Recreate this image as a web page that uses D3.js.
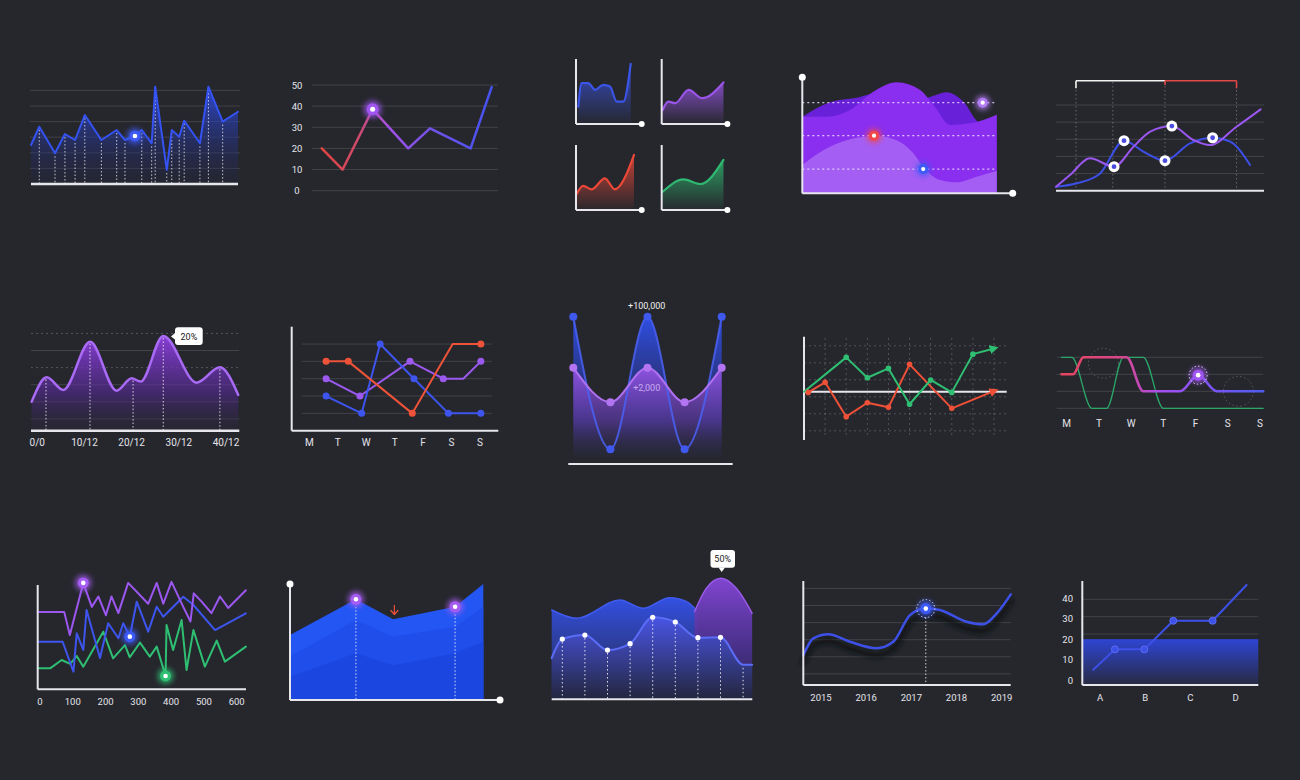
<!DOCTYPE html>
<html><head><meta charset="utf-8">
<script src="https://cdn.jsdelivr.net/npm/d3@7"></script>
<style>html,body{margin:0;padding:0;background:#26272d;overflow:hidden}svg{display:block}text{font-family:Roboto,"Noto Sans",sans-serif}</style>
</head><body><script>
// ---------------- DATA ----------------
// 1: spiky blue area
const spikeX = [0,4,11.6,16.4,21.3,26,34,41.4,45.4,50.2,53.5,58.3,60,65.6,68,71.6,74,81.6,85.7,92.6,100];
const spikeY = [2.5,3.67,1.97,3.2,2.82,4.42,2.82,3.46,2.82,3.08,3.46,2.61,6.24,0.9,3.46,3.03,4.06,2.61,6.24,4.0,4.63];
// 2: gradient line with 0-50 ticks
const lineTicks = [0,10,20,30,40,50];
const lineX = [5.4,16.6,32.7,51.8,63.5,85.3,96.6];
const lineY = [20,10,38.5,20,29.5,20,49];
// 3: four mini area charts
const miniBlueX = [0.35,0.87,1.87,2.9,4.16,5.17,6.2,7.2,8.33];
const miniBlueY = [2.67,6.3,6.3,5.26,6.03,5.77,3.45,3.45,9.27];
const miniPurpleX = [0.15,1.0,2.05,4.1,6.15,9.4];
const miniPurpleY = [2.16,3.45,3.2,5.26,3.97,6.38];
const miniRedX = [0.1,1.1,2.4,4.4,5.9,8.83];
const miniRedY = [2.46,3.7,3.18,4.88,3.18,8.46];
const miniGreenX = [0.15,3.3,5.9,9.4];
const miniGreenY = [2.8,4.7,4.0,7.7];
// 4: layered violet waves
const waveDarkX = [0,1.42,2.8,3.83,5.03,6.23,7.43,8.29,9.14,10];
const waveDarkY = [6.6,7.84,8.24,8.62,8.62,8.19,8.71,7.9,6.12,6.78];
const waveMidX = [0,1.25,2.45,3.65,4.86,6.06,6.75,7.6,8.63,10];
const waveMidY = [6.6,6.6,7.18,8.76,9.57,8.9,7.61,5.89,6.03,6.78];
const waveLightX = [0,1.08,2.45,3.83,4.86,5.71,6.22,7.08,7.94,8.97,10];
const waveLightY = [2.44,3.71,4.66,4.94,4.57,3.45,2.29,1.15,0.95,1.43,1.92];
const wavePinX = [9.28,3.69,6.22];
const wavePinY = [7.81,4.97,2.09];
// 5: two smooth trend lines
const trendPurpleX = [0,0.67,1.63,2.79,3.73,4.53,5.57,6.6,7.4,8.68,9.84];
const trendPurpleY = [0.23,0.91,1.89,1.4,2.57,3.44,3.77,2.96,2.66,3.73,4.75];
const trendBlueX = [0,1.0,2.12,3.27,4.2,5.24,6.44,7.53,8.37,9.33];
const trendBlueY = [0.23,0.43,1.01,2.92,2.28,1.75,2.76,3.09,2.86,1.5];
const trendMarkX = [3.27,2.79,5.57,5.24,7.53];
const trendMarkY = [2.92,1.4,3.77,1.75,3.09];
const trendGuides = [0.96,2.73,5.24,8.68];
// 6: purple hills
const hillX = [-1.2,2,5.5,11.2,16.8,20,21.9,26.7,33.8,38.7,42.6];
const hillY = [2.0,3.43,2.69,5.51,2.65,3.37,3.18,5.85,3.12,4.02,2.4];
const hillTicks = [0,10,20,30,40];
const hillLabels = ["0/0","10/12","20/12","30/12","40/12"];
const hillGuides = [1.84,11.17,20.3,26.7,38.7];
const hillNote = "20%";
// 7: weekly lines
const weekDays = ["M","T","W","T","F","S","S"];
const weekRedX = [0.59,1.37,3.62,5.04,6.03];
const weekRedY = [4,4,1,5,5];
const weekPurpleX = [0.59,1.78,3.54,4.71,5.41,6.03];
const weekPurpleY = [3,2,4,3,3,4];
const weekBlueX = [0.59,1.84,2.49,3.68,4.89,6.03];
const weekBlueY = [2,1,5,3,1,1];
// 8: oscillating waves
const oscX = [0,1,2,3,4];
const oscBlueY = [100,10,100,10,100];
const oscPurpleY = [65.4,42,65.4,42,65.4];
const oscLabels = ["+100,000","+2,000"];
// 9: green / red around zero
const gainGreenX = [0,2,3,4,5,6,7,8,9.05];
const gainGreenY = [0,2.02,0.82,1.37,-0.74,0.69,-0.04,2.21,2.56];
const gainRedX = [0.2,1,2,3,4,5,7,9.05];
const gainRedY = [-0.04,0.55,-1.47,-0.65,-0.92,1.61,-0.98,0.06];
const gainGridY = [2.7,1.7,0.7,-0.3,-1.3,-2.3];
// 10: step waves
const stepGreenX = [-0.16,0.16,0.78,1.24,1.76,2.38,3.0,6.1];
const stepGreenY = [3,3,0,0,3,3,0,0];
const stepPinkX = [-0.16,0.2,0.52,1.86,2.38,3.52,4.08,4.66,6.1];
const stepPinkY = [2,2,3,3,1,1,1.95,1,1];
const stepRingX = [1.14,5.33];
const stepRingY = [2.65,1.0];
// 11: three zigzag lines
const multiTicks = [0,100,200,300,400,500,600];
const multiPurpleX = [-7,74,91,132,158,178,201,218,239,269,330,356,376,401,437,459,469,493,523,549,574,628];
const multiPurpleY = [74,74,52,102,79,89,71,89,73,102,82,102,82,103,79,65,92,84,73,89,78,95];
const multiBlueX = [-7,69,102,112,132,142,183,208,239,254,274,295,330,356,376,437,468,534,628];
const multiBlueY = [45.6,45.6,16.9,53.7,37.7,76,30,63.3,48.9,63.3,50.5,84,55.2,79.2,69.6,88.8,80.8,56.8,72.9];
const multiGreenX = [-7,31,66,92,112,132,193,223,259,274,305,335,356,383,386,406,432,447,468,503,539,564,628];
const multiGreenY = [20.1,20.1,28.1,24.3,31.9,21.7,55.2,29.7,42.4,30.7,44.7,31.3,40.9,12.8,61.7,37.7,66.4,18.5,56.8,21.7,46.7,26.5,40.9];
// 12: blue mountain
const mountX = [0,3.41,5.34,8.54,10];
const mountTop = [5.6,8.68,6.96,8.04,10];
const mountMid = [3.73,6.9,5.46,6.32,8.04];
const mountLow = [2.0,4.03,3.0,4.03,5.03];
// 13: valley with 50% tooltip
const valleyBackX = [-0.47,0.64,2.55,3.58,4.76,5.5,6.0];
const valleyBackY = [7.38,6.69,8.21,7.52,8.4,8.07,7.24];
const valleyPurpleX = [5.85,6.37,7.03,7.7,8.4];
const valleyPurpleY = [7.24,9.17,10,9.17,7.11];
const valleyFrontX = [-0.47,0,1,2,3,4,5,6,7,8,8.4];
const valleyFrontY = [3.4,4.98,5.31,4.07,4.6,6.78,6.39,5.09,5.12,2.85,2.85];
const valleyNote = "50%";
// 14: yearly curve
const yearTicks = [2015,2016,2017,2018,2019];
const yearX = [2014.61,2014.83,2015.16,2015.64,2016.23,2016.6,2016.97,2017.32,2017.63,2018.22,2018.59,2018.89,2019.2];
const yearY = [2.1,3.08,3.32,2.88,2.5,2.88,4.44,4.84,4.74,4.05,3.9,4.54,5.65];
// 15: A-D line with band
const abcLabels = ["A","B","C","D"];
const abcTicks = [0,10,20,30,40];
const abcX = [-0.15,0.33,0.98,1.62,2.49,3.24];
const abcY = [5,15,15,29,29,46.5];
const abcBand = 20;

// ---------------- SETUP ----------------
const BG="#26272d", GRID="rgba(255,255,255,0.13)", AX="#e6e6ec", TXT="#e4e4ea";
const BLUE="#3d55ee", PURPLE="#9b57f0", RED="#ee5038", GREEN="#2fbf73";
const svg=d3.select("body").append("svg").attr("width",1300).attr("height",780);
const defs=svg.append("defs");
svg.append("rect").attr("width",1300).attr("height",780).attr("fill",BG);

function vgrad(id,stops){const g=defs.append("linearGradient").attr("id",id).attr("x1",0).attr("y1",0).attr("x2",0).attr("y2",1);
  stops.forEach(s=>g.append("stop").attr("offset",s[0]).attr("stop-color",s[1]).attr("stop-opacity",s[2]==null?1:s[2]));}
function hgrad(id,x1,x2,stops){const g=defs.append("linearGradient").attr("id",id).attr("gradientUnits","userSpaceOnUse").attr("x1",x1).attr("y1",0).attr("x2",x2).attr("y2",0);
  stops.forEach(s=>g.append("stop").attr("offset",s[0]).attr("stop-color",s[1]));}
const fG=defs.append("filter").attr("id","glow").attr("x","-2").attr("y","-2").attr("width","5").attr("height","5");
fG.append("feGaussianBlur").attr("stdDeviation",2.5);
const fS=defs.append("filter").attr("id","soft").attr("x","-0.2").attr("y","-0.5").attr("width","1.4").attr("height","2");
fS.append("feGaussianBlur").attr("stdDeviation",2);
function arrowMarker(id,color){defs.append("marker").attr("id",id).attr("viewBox","0 0 10 10").attr("refX",6).attr("refY",5)
  .attr("markerWidth",9).attr("markerHeight",9).attr("markerUnits","userSpaceOnUse").attr("orient","auto")
  .append("path").attr("d","M0,0L10,5L0,10z").attr("fill",color);}
arrowMarker("arrG",GREEN); arrowMarker("arrR",RED);

const pts=(xs,ys)=>xs.map((x,i)=>[x,ys[i]]);
const lineG=(sx,sy,c)=>d3.line().x(d=>sx(d[0])).y(d=>sy(d[1])).curve(c||d3.curveLinear);
const areaG=(sx,sy,y0,c)=>d3.area().x(d=>sx(d[0])).y0(y0).y1(d=>sy(d[1])).curve(c||d3.curveLinear);
function seg(g,x1,y1,x2,y2,st,w,dash,op){const l=g.append("line").attr("x1",x1).attr("y1",y1).attr("x2",x2).attr("y2",y2).attr("stroke",st).attr("stroke-width",w||1);
  if(dash)l.attr("stroke-dasharray",dash); if(op!=null)l.attr("opacity",op); return l;}
function txt(g,x,y,t,anchor,size,fill){return g.append("text").attr("x",x).attr("y",y).attr("text-anchor",anchor||"middle").attr("font-size",size||10).attr("fill",fill||TXT).text(t);}
function glowDot(g,cx,cy,color,r){g.append("circle").attr("cx",cx).attr("cy",cy).attr("r",r*1.5).attr("fill",color).attr("opacity",0.7).attr("filter","url(#glow)");
  g.append("circle").attr("cx",cx).attr("cy",cy).attr("r",r).attr("fill",color);
  g.append("circle").attr("cx",cx).attr("cy",cy).attr("r",r*0.42).attr("fill","#fff");}
function path(g,d,stroke,w,fill){return g.append("path").attr("d",d).attr("fill",fill||"none").attr("stroke",stroke||"none").attr("stroke-width",w||0).attr("stroke-linejoin","round").attr("stroke-linecap","round");}

// ---------------- PANEL 1 ----------------
{const g=svg.append("g");
 const x=d3.scaleLinear().domain([0,100]).range([31,238]);
 const y=d3.scaleLinear().domain([0,6]).range([184,90.4]);
 vgrad("gSpike",[[0,"#2f4ff0",0.85],[1,"#1e2250",0.15]]);
 d3.range(1,7).forEach(v=>seg(g,30,y(v),240,y(v),GRID,1));
 const d=pts(spikeX,spikeY);
 path(g,areaG(x,y,y(0))(d),null,0,"url(#gSpike)");
 d.slice(1,-1).forEach((p,i)=>{if(i!==8)seg(g,x(p[0]),y(p[1])+3,x(p[0]),y(0),"#fff",1,"1.5 2",0.75);});
 path(g,lineG(x,y)(d),"#3552f2",2);
 seg(g,31,y(0),238,y(0),AX,2.5);
 glowDot(g,x(spikeX[9]),y(spikeY[9]),"#3d5af6",5.5);
}
// ---------------- PANEL 2 ----------------
{const g=svg.append("g");
 const x=d3.scaleLinear().domain([0,100]).range([311.7,498]);
 const y=d3.scaleLinear().domain([0,50]).range([190.7,85]);
 lineTicks.forEach(v=>{seg(g,311.7,y(v),498,y(v),GRID,1);txt(g,297,y(v)+3.5,v,"middle",9.5);});
 hgrad("gLine2",321,492,[[0,"#e0443f"],[0.22,"#d04a6a"],[0.4,"#a150e6"],[0.65,"#7252ea"],[1,"#4552f2"]]);
 const d=pts(lineX,lineY);
 path(g,lineG(x,y)(d),"url(#gLine2)",2.5);
 glowDot(g,x(lineX[2]),y(lineY[2]),"#a055f2",6);
}
// ---------------- PANEL 3 ----------------
function mini(x0,yB,xs,ys,color,id){const g=svg.append("g");
 const x=d3.scaleLinear().domain([0,10]).range([x0,x0+65.7]);
 const y=d3.scaleLinear().domain([0,10]).range([yB,yB-65]);
 vgrad(id,[[0,color,0.8],[1,color,0.02]]);
 const d=pts(xs,ys);
 path(g,areaG(x,y,yB,d3.curveMonotoneX)(d),null,0,"url(#"+id+")");
 path(g,lineG(x,y,d3.curveMonotoneX)(d),color,2.2);
 seg(g,x0,yB-65,x0,yB,AX,2); seg(g,x0,yB,x0+65.7,yB,AX,2);
 g.append("circle").attr("cx",x0+65.7).attr("cy",yB).attr("r",3).attr("fill","#fff");}
mini(576,124,miniBlueX,miniBlueY,"#3b55e8","gMiniB");
mini(661.7,124,miniPurpleX,miniPurpleY,"#9a55e8","gMiniP");
mini(576,210,miniRedX,miniRedY,"#ec4838","gMiniR");
mini(661.7,210,miniGreenX,miniGreenY,"#2fb870","gMiniG");
// ---------------- PANEL 4 ----------------
{const g=svg.append("g");
 const x=d3.scaleLinear().domain([0,10]).range([802.3,996.7]);
 const y=d3.scaleLinear().domain([0,10]).range([193.3,77.3]);
 const c=d3.curveMonotoneX;
 path(g,areaG(x,y,y(0),c)(pts(waveDarkX,waveDarkY)),null,0,"#6820d8");
 path(g,areaG(x,y,y(0),c)(pts(waveMidX,waveMidY)),null,0,"#8a2ff0");
 path(g,areaG(x,y,y(0),c)(pts(waveLightX,waveLightY)),null,0,"#a45ef3");
 const cols=["#b27af5","#f0464a","#3d5af6"];
 wavePinY.forEach(v=>seg(g,x(0),y(v),x(10),y(v),"#f2e8ff",1.3,"2 3",0.8));
 wavePinX.forEach((v,i)=>glowDot(g,x(v),y(wavePinY[i]),cols[i],5));
 seg(g,x(0),y(10),x(0),y(0),AX,2); seg(g,x(0),y(0),1012.7,y(0),AX,2);
 g.append("circle").attr("cx",x(0)).attr("cy",y(10)).attr("r",3.5).attr("fill","#fff");
 g.append("circle").attr("cx",1012.7).attr("cy",y(0)).attr("r",3.5).attr("fill","#fff");
}
// ---------------- PANEL 5 ----------------
{const g=svg.append("g");
 const x=d3.scaleLinear().domain([0,10]).range([1056,1264]);
 const y=d3.scaleLinear().domain([0,5]).range([190.7,105]);
 d3.range(1,6).forEach(v=>seg(g,1056,y(v),1264,y(v),GRID,1));
 trendGuides.forEach(v=>seg(g,x(v),82,x(v),190.7,"rgba(255,255,255,0.3)",1,"1.5 2.5"));
 seg(g,x(trendGuides[0]),80.7,x(trendGuides[2]),80.7,"#f2f2f2",1.6);
 seg(g,x(trendGuides[0]),80.7,x(trendGuides[0]),88.3,"#f2f2f2",1.6);
 seg(g,x(trendGuides[2]),80.7,x(trendGuides[3]),80.7,"#e04848",1.6);
 seg(g,x(trendGuides[2]),80.7,x(trendGuides[2]),85,"#e04848",1.6);
 seg(g,x(trendGuides[3]),80.7,x(trendGuides[3]),88.3,"#e04848",1.6);
 path(g,lineG(x,y,d3.curveMonotoneX)(pts(trendBlueX,trendBlueY)),"#3c4fe6",2);
 path(g,lineG(x,y,d3.curveMonotoneX)(pts(trendPurpleX,trendPurpleY)),"#9b57f0",2);
 seg(g,1056,190.7,1264,190.7,AX,2);
 trendMarkX.forEach((v,i)=>{g.append("circle").attr("cx",x(v)).attr("cy",y(trendMarkY[i])).attr("r",5.5).attr("fill","#fff");
   g.append("circle").attr("cx",x(v)).attr("cy",y(trendMarkY[i])).attr("r",2.4).attr("fill","#4a4ce0");});
}
// ---------------- PANEL 6 ----------------
{const g=svg.append("g");
 const x=d3.scaleLinear().domain([0,40]).range([37.3,226]);
 const y=d3.scaleLinear().domain([0,6]).range([436,333.4]);
 d3.range(1,7).forEach(v=>seg(g,31,y(v),239.3,y(v),v%2===0&&v>3?"rgba(255,255,255,0.22)":GRID,1,v%2===0&&v>3?"2 3":null));
 vgrad("gHill",[[0,"#8e3fe0",0.95],[0.6,"#5a2aa0",0.55],[1,"#2a2540",0.2]]);
 const d=pts(hillX,hillY);
 path(g,areaG(x,y,430.7,d3.curveMonotoneX)(d),null,0,"url(#gHill)");
 const ln=lineG(x,y,d3.curveMonotoneX);
 const p=path(g,ln(d),"#a96af5",2.5);
 // dotted guides up to the curve
 const node=p.node(), L=node.getTotalLength();
 function curveY(px){let lo=0,hi=L;for(let k=0;k<30;k++){const m=(lo+hi)/2;if(node.getPointAtLength(m).x<px)lo=m;else hi=m;}return node.getPointAtLength(lo).y;}
 hillGuides.forEach(v=>seg(g,x(v),curveY(x(v))+2,x(v),430.7,"#fff",1,"1.5 2",0.8));
 seg(g,31,430.7,239.3,430.7,AX,2.5);
 hillTicks.forEach((v,i)=>txt(g,x(v),446,hillLabels[i],"middle",10));
 g.append("rect").attr("x",175).attr("y",327.3).attr("width",27.7).attr("height",17.7).attr("rx",3).attr("fill","#fff");
 g.append("path").attr("d","M175,333 L171,336.5 L175,339.5 Z").attr("fill","#fff");
 txt(g,188.9,339.5,hillNote,"middle",9,"#222");
}
// ---------------- PANEL 7 ----------------
{const g=svg.append("g");
 const x=d3.scaleLinear().domain([0,6]).range([309.3,480]);
 const y=d3.scaleLinear().domain([0,6]).range([430.7,326.7]);
 d3.range(1,6).forEach(v=>seg(g,301.7,y(v),491.7,y(v),GRID,1));
 seg(g,291.7,326.7,291.7,430.7,AX,2); seg(g,291.7,430.7,498.3,430.7,AX,2);
 weekDays.forEach((t,i)=>txt(g,x(i),446,t,"middle",10));
 const series=[[weekPurpleX,weekPurpleY,"#9b59f0",[4]],[weekBlueX,weekBlueY,"#3d55ee",[]],[weekRedX,weekRedY,"#ee5238",[3]]];
 series.forEach(s=>{const d=pts(s[0],s[1]);path(g,lineG(x,y)(d),s[2],2);
   d.forEach((p,i)=>{if(s[3].indexOf(i)<0)g.append("circle").attr("cx",x(p[0])).attr("cy",y(p[1])).attr("r",3.5).attr("fill",s[2]);});});
}
// ---------------- PANEL 8 ----------------
{const g=svg.append("g");
 const x=d3.scaleLinear().domain([0,4]).range([573.3,721.7]);
 const y=d3.scaleLinear().domain([0,100]).range([464,316.7]);
 const c=d3.curveMonotoneX;
 vgrad("gOscB",[[0,"#2f50ee",0.95],[0.7,"#2a3590",0.5],[1,"#262a45",0.1]]);
 vgrad("gOscP",[[0,"#9a55e8",0.9],[0.6,"#5b3aa8",0.65],[1,"#2a2a48",0.15]]);
 const db=pts(oscX,oscBlueY), dp=pts(oscX,oscPurpleY);
 path(g,areaG(x,y,y(5),c)(db),null,0,"url(#gOscB)");
 path(g,areaG(x,y,y(5),c)(dp),null,0,"url(#gOscP)");
 path(g,lineG(x,y,c)(db),"#4a62f5",2).attr("opacity",0.85);
 path(g,lineG(x,y,c)(dp),"#b070f2",2);
 db.forEach(p=>g.append("circle").attr("cx",x(p[0])).attr("cy",y(p[1])).attr("r",4).attr("fill","#3f58ee"));
 dp.forEach(p=>g.append("circle").attr("cx",x(p[0])).attr("cy",y(p[1])).attr("r",4).attr("fill","#b274f0"));
 seg(g,568.3,464,732.7,464,AX,2);
 txt(g,646.7,309,oscLabels[0],"middle",9,"#f0f0f0");
 txt(g,646.7,390.5,oscLabels[1],"middle",9,"#c9a8f0");
}
// ---------------- PANEL 9 ----------------
{const g=svg.append("g");
 const x=d3.scaleLinear().domain([0,9]).range([804,994]);
 const y=d3.scaleLinear().domain([-3,3]).range([442.7,340.7]);
 gainGridY.forEach(v=>seg(g,804,y(v),1008,y(v),"rgba(255,255,255,0.2)",1,"2 3"));
 d3.range(1,10).forEach(v=>seg(g,x(v),338,x(v),435,"rgba(255,255,255,0.2)",1,"2 3"));
 seg(g,804,y(0),1006.7,y(0),AX,2);
 seg(g,804,336.7,804,440,AX,2);
 const dg=pts(gainGreenX,gainGreenY), dr=pts(gainRedX,gainRedY);
 path(g,lineG(x,y)(dr),RED,2).attr("marker-end","url(#arrR)");
 path(g,lineG(x,y)(dg),GREEN,2).attr("marker-end","url(#arrG)");
 dr.slice(0,-1).forEach(p=>g.append("circle").attr("cx",x(p[0])).attr("cy",y(p[1])).attr("r",2.8).attr("fill",RED));
 dg.slice(1,-1).forEach(p=>g.append("circle").attr("cx",x(p[0])).attr("cy",y(p[1])).attr("r",2.8).attr("fill",GREEN));
}
// ---------------- PANEL 10 ----------------
{const g=svg.append("g");
 const x=d3.scaleLinear().domain([0,6]).range([1066.7,1260]);
 const y=d3.scaleLinear().domain([0,3]).range([408.3,357.3]);
 d3.range(0,4).forEach(v=>seg(g,1056.7,y(v),1263.3,y(v),GRID,1));
 stepRingX.forEach((v,i)=>g.append("circle").attr("cx",x(v)).attr("cy",y(stepRingY[i])).attr("r",15).attr("fill","none")
   .attr("stroke","rgba(255,255,255,0.22)").attr("stroke-dasharray","1.5 2.5"));
 path(g,lineG(x,y,d3.curveMonotoneX)(pts(stepGreenX,stepGreenY)),"#2aa86a",1.3);
 hgrad("gStep",1061,1263,[[0,"#e8455e"],[0.3,"#d8468c"],[0.5,"#a550f0"],[0.75,"#7a55f5"],[1,"#4f5cf0"]]);
 path(g,lineG(x,y,d3.curveMonotoneX)(pts(stepPinkX,stepPinkY)),"url(#gStep)",2.6);
 const hx=x(stepPinkX[6]), hy=y(stepPinkY[6]);
 g.append("circle").attr("cx",hx).attr("cy",hy).attr("r",9).attr("fill","none").attr("stroke","#fff").attr("stroke-dasharray","1.5 2");
 glowDot(g,hx,hy,"#a055f2",5.5);
 weekDays.forEach((t,i)=>txt(g,x(i),427,t,"middle",10));
}
// ---------------- PANEL 11 ----------------
{const g=svg.append("g");
 const x=d3.scaleLinear().domain([0,600]).range([40,236.7]);
 const y=d3.scaleLinear().domain([0,100]).range([689.3,585]);
 path(g,lineG(x,y)(pts(multiGreenX,multiGreenY)),"#2fbf73",2);
 path(g,lineG(x,y)(pts(multiBlueX,multiBlueY)),"#3d55ee",2);
 path(g,lineG(x,y)(pts(multiPurpleX,multiPurpleY)),"#9b57f0",2);
 seg(g,37.7,585,37.7,689.3,AX,2); seg(g,37.7,689.3,246,689.3,AX,2);
 multiTicks.forEach(v=>txt(g,x(v),704.5,v,"middle",9.5));
 glowDot(g,x(132),y(102),"#a55cf2",5.5);
 glowDot(g,x(274),y(50.5),"#3d5af6",5.5);
 glowDot(g,x(383),y(12.8),"#2fbf73",5.5);
}
// ---------------- PANEL 12 ----------------
{const g=svg.append("g");
 const x=d3.scaleLinear().domain([0,10]).range([290,483.3]);
 const y=d3.scaleLinear().domain([0,10]).range([700,584]);
 path(g,areaG(x,y,y(0))(pts(mountX,mountTop)),null,0,"#2356f3");
 path(g,areaG(x,y,y(0))(pts(mountX,mountMid)),null,0,"#1f4eea");
 path(g,areaG(x,y,y(0))(pts(mountX,mountLow)),null,0,"#1b47e0");
 [1,3].forEach(i=>{seg(g,x(mountX[i]),y(mountTop[i])+4,x(mountX[i]),y(0),"#fff",1,"1.5 2",0.8);
   glowDot(g,x(mountX[i]),y(mountTop[i]),"#a55cf2",5.5);});
 const ax=x(5.4), ay=y(7.76);
 seg(g,ax,ay-5,ax,ay+4,"#ee5038",1.2);
 path(g,`M${ax-3.5},${ay+0.5}L${ax},${ay+4.5}L${ax+3.5},${ay+0.5}`,"#ee5038",1.2);
 seg(g,290,584,290,700,AX,2); seg(g,290,700,500,700,AX,2);
 g.append("circle").attr("cx",290).attr("cy",584).attr("r",3.5).attr("fill","#fff");
 g.append("circle").attr("cx",500).attr("cy",700).attr("r",3.5).attr("fill","#fff");
}
// ---------------- PANEL 13 ----------------
{const g=svg.append("g");
 const x=d3.scaleLinear().domain([0,8]).range([562.3,743.1]);
 const y=d3.scaleLinear().domain([0,10]).range([699.3,578.3]);
 const c=d3.curveMonotoneX;
 vgrad("gValB",[[0,"#3350e2",1],[1,"#262a50",0.9]]);
 vgrad("gValP",[[0,"#8045d0",1],[0.6,"#4a3090",0.9],[1,"#262a48",0.9]]);
 vgrad("gValF",[[0,"#4a55e6",0.95],[1,"#23263e",1]]);
 path(g,areaG(x,y,y(0),c)(pts(valleyBackX,valleyBackY)),null,0,"url(#gValB)");
 path(g,lineG(x,y,c)(pts(valleyBackX,valleyBackY)),"#3f5bf0",1.5);
 path(g,areaG(x,y,y(0),c)(pts(valleyPurpleX,valleyPurpleY)),null,0,"url(#gValP)");
 path(g,lineG(x,y,c)(pts(valleyPurpleX,valleyPurpleY)),"#9a5ae8",1.5);
 const df=pts(valleyFrontX,valleyFrontY);
 path(g,areaG(x,y,y(0),c)(df),null,0,"url(#gValF)");
 path(g,lineG(x,y,c)(df),"#5b6cf7",2);
 df.slice(1,10).forEach((p,i)=>{seg(g,x(p[0]),y(p[1])+3,x(p[0]),y(0),"#fff",1,"1.5 2.5",0.85);
   if(i<8)g.append("circle").attr("cx",x(p[0])).attr("cy",y(p[1])).attr("r",2.6).attr("fill","#fff");});
 seg(g,551.7,699.3,752.3,699.3,AX,2);
 g.append("rect").attr("x",710.5).attr("y",550).attr("width",24.5).attr("height",17.7).attr("rx",3).attr("fill","#fff");
 g.append("path").attr("d","M718.5,567.5L721.7,572L725,567.5Z").attr("fill","#fff");
 txt(g,722.7,562.3,valleyNote,"middle",9,"#222");
}
// ---------------- PANEL 14 ----------------
{const g=svg.append("g");
 const x=d3.scaleLinear().domain([2015,2019]).range([821,1001.7]);
 const y=d3.scaleLinear().domain([0,6]).range([691,588.4]);
 d3.range(1,7).forEach(v=>seg(g,803.3,y(v),1010.7,y(v),GRID,1));
 const d=pts(yearX,yearY), ln=lineG(x,y,d3.curveMonotoneX);
 path(g,ln(d),"#111217",5).attr("transform","translate(0,7)").attr("filter","url(#soft)").attr("opacity",0.9);
 path(g,ln(d),"#3d50e8",2.5);
 seg(g,803.3,581,803.3,685,AX,2); seg(g,803.3,685,1010.7,685,AX,2);
 yearTicks.forEach(v=>txt(g,x(v),701,v,"middle",9.5));
 const hx=x(2017.32), hy=y(4.82);
 seg(g,hx,hy+9,hx,685,"#fff",1,"1.5 2",0.8);
 g.append("circle").attr("cx",hx).attr("cy",hy).attr("r",9).attr("fill","none").attr("stroke","#fff").attr("stroke-dasharray","1.5 2");
 glowDot(g,hx,hy,"#3d5af6",5.5);
}
// ---------------- PANEL 15 ----------------
{const g=svg.append("g");
 const x=d3.scaleLinear().domain([0,3]).range([1100,1235.7]);
 const y=d3.scaleLinear().domain([0,40]).range([680,598.3]);
 [39.5,31,22.5].forEach(v=>seg(g,1082.3,y(v),1258.3,y(v),GRID,1));
 vgrad("gBand",[[0,"#2f46dc",0.95],[1,"#2f46dc",0.12]]);
 g.append("rect").attr("x",1082.3).attr("y",y(abcBand)).attr("width",176).attr("height",685-y(abcBand)).attr("fill","url(#gBand)");
 const d=pts(abcX,abcY);
 path(g,lineG(x,y)(d),"#3d50e8",2);
 d.slice(1,5).forEach(p=>g.append("circle").attr("cx",x(p[0])).attr("cy",y(p[1])).attr("r",3.5).attr("fill","#3d50e8").attr("stroke","#5a6cf0").attr("stroke-width",1));
 seg(g,1082.3,581,1082.3,685,AX,2); seg(g,1082.3,685,1258.3,685,AX,2);
 abcTicks.forEach(v=>txt(g,1073,y(v)+3.5,v,"end",9.5));
 abcLabels.forEach((t,i)=>txt(g,x(i),701,t,"middle",9.5));
}
</script></body></html>
